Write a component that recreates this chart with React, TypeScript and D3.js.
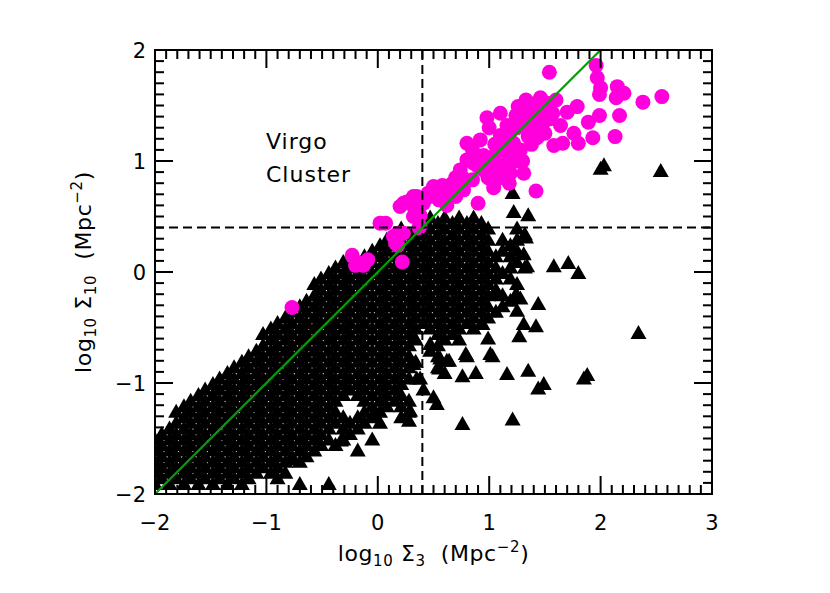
import React from 'react';
import { scaleLinear, range } from 'd3';

// field galaxies, dense part: one entry per row [log Σ10, log Σ3 values]
const fieldRows: [number, number[]][] = [
  [-1.9, [-2.0, -1.87, -1.74, -1.61, -1.48, -1.35, -1.22, -0.7, -0.44]],
  [-1.85, [-1.94, -1.81, -1.68, -1.55, -1.42, -1.29, -1.16, -0.9]],
  [-1.8, [-2.0, -1.87, -1.74, -1.61, -1.48, -1.35, -1.22, -1.09, -0.96, -0.83]],
  [-1.75, [-1.94, -1.81, -1.68, -1.55, -1.42, -1.29, -1.16, -1.03, -0.9]],
  [-1.7, [-2.0, -1.87, -1.74, -1.61, -1.48, -1.35, -1.22, -1.09, -0.96, -0.83, -0.7]],
  [-1.65, [-1.94, -1.81, -1.68, -1.55, -1.42, -1.29, -1.16, -1.03, -0.9, -0.77, -0.64]],
  [-1.6, [-2.0, -1.87, -1.74, -1.61, -1.48, -1.35, -1.22, -1.09, -0.96, -0.83, -0.7, -0.57, -0.18]],
  [-1.55, [-1.94, -1.81, -1.68, -1.55, -1.42, -1.29, -1.16, -1.03, -0.9, -0.77, -0.64, -0.51, -0.38]],
  [-1.5, [-2.0, -1.87, -1.74, -1.61, -1.48, -1.35, -1.22, -1.09, -0.96, -0.83, -0.7, -0.57, -0.44, -0.31, -0.05]],
  [-1.45, [-1.94, -1.81, -1.68, -1.55, -1.42, -1.29, -1.16, -1.03, -0.9, -0.77, -0.64, -0.51, -0.25]],
  [-1.4, [-1.87, -1.74, -1.61, -1.48, -1.35, -1.22, -1.09, -0.96, -0.83, -0.7, -0.57, -0.44, -0.31, -0.18]],
  [-1.35, [-1.81, -1.68, -1.55, -1.42, -1.29, -1.16, -1.03, -0.9, -0.77, -0.64, -0.51, -0.38, -0.25, -0.12, 0.02]],
  [-1.3, [-1.74, -1.61, -1.48, -1.35, -1.22, -1.09, -0.96, -0.83, -0.7, -0.57, -0.44, -0.31, -0.18, -0.05, 0.21]],
  [-1.25, [-1.81, -1.68, -1.55, -1.42, -1.29, -1.16, -1.03, -0.9, -0.77, -0.64, -0.51, -0.38, -0.12, 0.02, 0.28]],
  [-1.2, [-1.74, -1.61, -1.48, -1.35, -1.22, -1.09, -0.96, -0.83, -0.7, -0.57, -0.44, -0.05, 0.08, 0.21]],
  [-1.15, [-1.68, -1.55, -1.42, -1.29, -1.16, -1.03, -0.9, -0.77, -0.64, -0.51, -0.38, -0.12, 0.02, 0.15, 0.28]],
  [-1.1, [-1.61, -1.48, -1.35, -1.22, -1.09, -0.96, -0.83, -0.7, -0.57, -0.44, -0.31, -0.18, -0.05, 0.08, 0.21]],
  [-1.05, [-1.55, -1.42, -1.29, -1.16, -1.03, -0.9, -0.77, -0.64, -0.51, -0.38, -0.25, -0.12, 0.02, 0.15, 0.41]],
  [-1.0, [-1.48, -1.35, -1.22, -1.09, -0.96, -0.83, -0.7, -0.57, -0.44, -0.31, -0.18, -0.05, 0.08, 0.21]],
  [-0.95, [-1.42, -1.29, -1.16, -1.03, -0.9, -0.77, -0.64, -0.51, -0.38, -0.25, -0.12, 0.02, 0.15, 0.28]],
  [-0.9, [-1.35, -1.22, -1.09, -0.96, -0.83, -0.7, -0.57, -0.44, -0.31, -0.18, -0.05, 0.08, 0.21, 0.6]],
  [-0.85, [-1.29, -1.16, -1.03, -0.9, -0.77, -0.64, -0.51, -0.38, -0.25, -0.12, 0.02, 0.15, 0.28, 0.54]],
  [-0.8, [-1.22, -1.09, -0.96, -0.83, -0.7, -0.57, -0.44, -0.31, -0.18, -0.05, 0.08, 0.21, 0.34]],
  [-0.75, [-1.16, -1.03, -0.9, -0.77, -0.64, -0.51, -0.38, -0.25, -0.12, 0.02, 0.15, 0.28, 0.54, 0.8]],
  [-0.7, [-1.09, -0.96, -0.83, -0.7, -0.57, -0.44, -0.31, -0.18, -0.05, 0.08, 0.21, 0.47]],
  [-0.65, [-1.03, -0.9, -0.77, -0.64, -0.51, -0.38, -0.25, -0.12, 0.02, 0.15, 0.28, 0.54]],
  [-0.6, [-0.96, -0.83, -0.7, -0.57, -0.44, -0.31, -0.18, -0.05, 0.08, 0.21, 0.34, 0.6, 0.73]],
  [-0.55, [-1.03, -0.9, -0.77, -0.64, -0.51, -0.38, -0.25, -0.12, 0.02, 0.15, 0.28, 0.54, 0.67]],
  [-0.5, [-0.96, -0.83, -0.7, -0.57, -0.44, -0.31, -0.18, -0.05, 0.08, 0.21, 0.34, 0.47, 0.6, 0.73, 0.86]],
  [-0.45, [-0.9, -0.77, -0.64, -0.51, -0.38, -0.25, -0.12, 0.02, 0.15, 0.28, 0.41, 0.54, 0.67, 0.8, 0.93]],
  [-0.4, [-0.83, -0.7, -0.57, -0.44, -0.31, -0.18, -0.05, 0.08, 0.21, 0.34, 0.47, 0.6, 0.73, 0.86, 0.99]],
  [-0.35, [-0.77, -0.64, -0.51, -0.38, -0.25, -0.12, 0.02, 0.15, 0.28, 0.41, 0.54, 0.67, 0.8, 0.93, 1.06]],
  [-0.3, [-0.7, -0.57, -0.44, -0.31, -0.18, -0.05, 0.08, 0.21, 0.34, 0.47, 0.6, 0.73, 0.86, 0.99, 1.12]],
  [-0.25, [-0.64, -0.51, -0.38, -0.25, -0.12, 0.02, 0.15, 0.28, 0.41, 0.54, 0.67, 0.8, 0.93, 1.19]],
  [-0.2, [-0.57, -0.44, -0.31, -0.18, -0.05, 0.08, 0.21, 0.34, 0.47, 0.6, 0.73, 0.86, 0.99, 1.12, 1.25]],
  [-0.15, [-0.51, -0.38, -0.25, -0.12, 0.02, 0.15, 0.28, 0.41, 0.54, 0.67, 0.8, 0.93, 1.06]],
  [-0.1, [-0.57, -0.44, -0.31, -0.18, -0.05, 0.08, 0.21, 0.34, 0.47, 0.6, 0.73, 0.86, 0.99, 1.25]],
  [-0.05, [-0.51, -0.38, -0.25, -0.12, 0.02, 0.15, 0.28, 0.41, 0.54, 0.67, 0.8, 0.93, 1.06, 1.19]],
  [0.0, [-0.44, -0.31, -0.18, -0.05, 0.08, 0.21, 0.34, 0.47, 0.6, 0.73, 0.86, 0.99, 1.12]],
  [0.05, [-0.38, -0.25, -0.12, 0.02, 0.15, 0.28, 0.41, 0.54, 0.67, 0.8, 0.93, 1.06, 1.19, 1.32]],
  [0.1, [-0.31, -0.18, -0.05, 0.08, 0.21, 0.34, 0.47, 0.6, 0.73, 0.86, 0.99, 1.25]],
  [0.15, [-0.12, 0.02, 0.15, 0.28, 0.41, 0.54, 0.67, 0.8, 0.93, 1.06, 1.19]],
  [0.2, [-0.05, 0.08, 0.21, 0.34, 0.47, 0.6, 0.73, 0.86, 0.99, 1.12, 1.25]],
  [0.25, [0.02, 0.15, 0.28, 0.41, 0.54, 0.67, 0.8, 0.93, 1.19]],
  [0.3, [0.08, 0.21, 0.34, 0.47, 0.6, 0.73, 0.86, 0.99, 1.12, 1.25]],
  [0.35, [0.15, 0.28, 0.41, 0.54, 0.67, 0.8, 0.93, 1.32]],
  [0.4, [0.21, 0.34, 0.47, 0.6, 0.73, 0.86, 0.99, 1.25]],
  [0.45, [0.41, 0.54, 0.67, 0.8, 0.93]],
  [0.5, [0.47, 0.6, 0.73, 0.86]],
];

// field galaxies, scattered ones [log Σ3, log Σ10]
const fieldSparse: [number, number][] = [
  [2.0, 0.94], [2.03, 0.97], [2.54, 0.92], [1.21, 0.72], [1.22, 0.55], [1.35, 0.52],
  [1.33, 0.32], [1.31, 0.17], [1.34, 0.06], [1.58, 0.06], [1.71, 0.09], [1.8, 0.0],
  [1.28, -0.23], [1.25, -0.34], [1.31, -0.46], [1.44, -0.28], [1.42, -0.48], [1.27, -0.57],
  [1.23, -0.21], [1.08, -0.19], [0.99, -0.59], [0.94, -0.46], [1.03, -0.75], [0.79, -0.73],
  [0.64, -0.79], [0.55, -0.86], [0.76, -0.93], [0.88, -0.9], [0.38, -0.95], [0.47, -0.64],
  [1.35, -0.88], [1.16, -0.91], [1.85, -0.95], [1.88, -0.92], [1.44, -1.04], [1.49, -1.0],
  [2.34, -0.54], [1.21, -1.32], [0.76, -1.36], [0.53, -1.18], [0.5, -1.12], [0.28, -1.33],
  [0.29, -1.24], [-0.04, -1.27], [0.05, -1.05], [-0.33, -1.51], [-0.78, -1.68],
  [0.56, -0.77], [0.62, -0.79], [0.32, -0.82], [0.35, -0.95], [1.01, -0.73],
];

// Virgo cluster galaxies [log Σ3, log Σ10]
const virgo: [number, number][] = [
  [1.54, 1.8], [1.96, 1.86], [1.97, 1.75], [2.0, 1.66], [1.99, 1.6], [2.15, 1.67], [2.21, 1.61],
  [2.14, 1.57], [2.38, 1.53], [2.55, 1.58], [2.17, 1.41], [2.13, 1.22], [1.99, 1.41], [1.89, 1.35],
  [1.93, 1.21], [1.79, 1.49], [1.7, 1.44], [1.76, 1.25], [1.8, 1.16], [1.64, 1.32], [1.58, 1.14],
  [1.66, 1.16], [1.46, 1.57], [1.52, 1.52], [1.42, 1.52], [1.57, 1.43], [1.49, 1.35], [1.43, 1.21],
  [1.26, 1.49], [1.24, 1.41], [1.1, 1.43], [0.98, 1.39], [1.16, 1.32], [1.19, 1.26], [1.31, 1.34],
  [1.35, 1.22], [1.1, 1.23], [1.22, 1.16], [1.28, 1.1], [1.13, 1.1], [0.92, 1.19], [0.8, 1.16],
  [0.85, 1.1], [0.8, 1.01], [0.86, 0.98], [1.04, 1.04], [0.95, 0.92], [1.1, 0.95], [1.19, 0.89],
  [1.31, 0.89], [0.74, 0.92], [0.76, 0.85], [0.85, 0.83], [0.99, 0.85], [1.04, 0.76], [1.18, 0.8],
  [0.67, 0.8], [0.77, 0.74], [1.42, 0.73], [0.9, 0.62], [0.53, 0.72], [0.47, 0.68], [0.55, 0.65],
  [0.35, 0.68], [0.26, 0.63], [0.2, 0.59], [0.41, 0.62], [0.38, 0.51], [0.32, 0.5], [0.37, 0.4],
  [0.23, 0.35], [0.07, 0.44], [0.18, 0.35], [0.16, 0.26], [0.22, 0.09], [-0.23, 0.15], [-0.09, 0.11],
  [-0.17, 0.08], [0.23, 0.62], [0.32, 0.68], [0.45, 0.71], [0.5, 0.77], [-0.77, -0.32], [-0.2, 0.06],
  [-0.13, 0.06], [0.18, 0.24], [0.02, 0.44], [0.14, 0.32], [0.32, 0.59], [0.38, 0.41],
  [1.35, 1.45], [1.4, 1.3], [1.2, 1.05], [1.05, 1.15], [1.3, 1.0], [1.15, 0.98], [0.95, 1.05],
  [1.45, 1.4], [1.6, 1.55], [1.5, 1.25], [0.62, 0.6], [0.7, 0.68], [0.58, 0.78],
  [1.0, 1.3], [1.15, 1.2], [1.25, 1.3], [1.35, 1.35], [1.45, 1.3], [1.38, 1.15], [1.25, 1.0],
  [1.1, 0.85], [0.98, 1.0], [0.9, 0.95], [0.7, 0.85], [0.62, 0.7], [1.5, 1.45], [1.55, 1.38],
  [1.42, 1.45], [1.33, 1.55], [1.05, 0.9], [0.88, 1.05],
];

const xTicks = [-2, -1, 0, 1, 2, 3];
const yTicks = [-2, -1, 0, 1, 2];
const cut = 0.4; // dashed cut in both densities

const W = 830, H = 593;
const FONT = 'DejaVu Sans, sans-serif';

export default function App() {
  const x = scaleLinear().domain([-2, 3]).range([155, 712]);
  const y = scaleLinear().domain([-2, 2]).range([494, 50]);
  const [x0, x1] = x.range();
  const [y0, y1] = y.range();

  const field: [number, number][] = [];
  fieldRows.forEach(([yy, xs]) => xs.forEach(xx => field.push([xx, yy])));
  fieldSparse.forEach(p => field.push(p));

  const tri = (px: number, py: number) =>
    `M${px - 8},${py + 7}L${px + 8},${py + 7}L${px},${py - 7}Z`;

  const xMinor = range(-20, 31).map(d => d / 10);
  const yMinor = range(-20, 21).map(d => d / 10);

  const lbl = (t: number) => (t < 0 ? '\u2212' + Math.abs(t) : String(t));

  const title = (sub: string) => [
    'log',
    <tspan key="a" fontSize={15} dy={5}>10</tspan>,
    <tspan key="b" dy={-5}>{'\u00A0\u03A3'}</tspan>,
    <tspan key="c" fontSize={15} dy={5}>{sub}</tspan>,
    <tspan key="d" dy={-5}>{'\u00A0\u00A0(Mpc'}</tspan>,
    <tspan key="e" fontSize={15} dy={-9}>{'\u2212'}2</tspan>,
    <tspan key="f" dy={9}>)</tspan>,
  ];

  return (
    <svg width={W} height={H} style={{ position: 'absolute', left: 0, top: 0, background: '#fff' }}
      fontFamily={FONT}>
      <defs>
        <clipPath id="plot">
          <rect x={x0} y={y1} width={x1 - x0} height={y0 - y1} />
        </clipPath>
      </defs>
      <g clipPath="url(#plot)">
        {field.map((d, i) => (
          <path key={'f' + i} d={tri(x(d[0]), y(d[1]))} fill="#000" />
        ))}
        {virgo.map((d, i) => (
          <circle key={'v' + i} cx={x(d[0])} cy={y(d[1])} r={7.5} fill="#ff00dd" />
        ))}
        <line x1={x(cut)} x2={x(cut)} y1={y0} y2={y1} stroke="#000" strokeWidth={2} strokeDasharray="9,5" />
        <line x1={x0} x2={x1} y1={y(cut)} y2={y(cut)} stroke="#000" strokeWidth={2} strokeDasharray="9,5" />
        <line x1={x(-2)} y1={y(-2)} x2={x(2)} y2={y(2)} stroke="#00a000" strokeWidth={2.2} />
      </g>
      <rect x={x0} y={y1} width={x1 - x0} height={y0 - y1} fill="none" stroke="#000" strokeWidth={2} />
      {xMinor.map((t, i) => {
        const major = Math.abs(t - Math.round(t)) < 1e-6;
        const len = major ? 18 : 9;
        return (
          <g key={'xt' + i} stroke="#000" strokeWidth={2}>
            <line x1={x(t)} x2={x(t)} y1={y0} y2={y0 - len} />
            <line x1={x(t)} x2={x(t)} y1={y1} y2={y1 + len} />
          </g>
        );
      })}
      {yMinor.map((t, i) => {
        const major = Math.abs(t - Math.round(t)) < 1e-6;
        const len = major ? 18 : 9;
        return (
          <g key={'yt' + i} stroke="#000" strokeWidth={2}>
            <line x1={x0} x2={x0 + len} y1={y(t)} y2={y(t)} />
            <line x1={x1} x2={x1 - len} y1={y(t)} y2={y(t)} />
          </g>
        );
      })}
      {xTicks.map(t => (
        <text key={'xl' + t} x={x(t)} y={530} textAnchor="middle" fontSize={21}>{lbl(t)}</text>
      ))}
      {yTicks.map(t => (
        <text key={'yl' + t} x={146} y={y(t) + 8} textAnchor="end" fontSize={21}>{lbl(t)}</text>
      ))}
      <text x={266} y={149} fontSize={22} letterSpacing={1}>Virgo</text>
      <text x={266} y={182} fontSize={22} letterSpacing={1}>Cluster</text>
      <text x={(x0 + x1) / 2} y={561} textAnchor="middle" fontSize={22} letterSpacing={0.6}>
        {title('3')}
      </text>
      <text transform={`translate(91,${(y0 + y1) / 2}) rotate(-90)`} textAnchor="middle" fontSize={22}
        letterSpacing={0.6}>
        {title('10')}
      </text>
    </svg>
  );
}
